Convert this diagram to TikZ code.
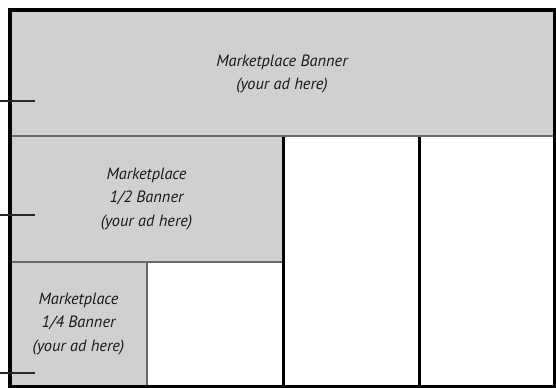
\documentclass[tikz,border=0pt]{standalone}
\usepackage{fontspec}
\setmainfont{PT Sans}
\usepackage{tikz}
\usetikzlibrary{positioning}
\definecolor{adgray}{RGB}{208,208,208}
\definecolor{adline}{RGB}{105,105,105}
\definecolor{adtext}{RGB}{25,25,25}
\tikzset{
  %% ---- boxes ----
  adbox/.style  = {rectangle, draw=adline, line width=1.1pt,
                   fill=adgray, inner sep=0pt, outer sep=0pt,
                   align=center, minimum width=#1, text=adtext,
                   font=\fontsize{9.3}{13.2}\selectfont\itshape},
  adbox/.default = 5cm,
  colbox/.style = {rectangle, fill=white, inner sep=0pt, outer sep=0pt,
                   minimum width=#1, minimum height=5cm},
  %% ---- lines ----
  frame/.style  = {draw=black, line width=2pt},
  tick/.style   = {draw=black!85, line width=1.1pt},
}
\begin{document}
\begin{tikzpicture}
\useasboundingbox (0,0) rectangle (11.12,-7.74);
\node[adbox=10.88cm, minimum height=2.52cm, anchor=north west] (banner) at (0.2,-0.2)
  {\raisebox{-0.08cm}{\begin{tabular}{@{}c@{}}Marketplace Banner\\(your ad here)\end{tabular}}};
\node[adbox=5.46cm, minimum height=2.52cm, below right=0pt of banner.south west] (half)
  {Marketplace\\1/2 Banner\\(your ad here)};
\node[adbox=2.74cm, minimum height=2.48cm, below right=0pt of half.south west] (quarter)
  {Marketplace\\1/4 Banner\\(your ad here)};
\node[colbox=2.72cm, below right=0.55pt of half.north east] (colA) {};
\node[colbox=2.70cm, below right=0pt of colA.north east]  (colB) {};
\draw[frame] (colA.north west) -- (colA.south west);
\draw[frame] (colB.north west) -- (colB.south west);
\draw[frame] (banner.north west) rectangle (colB.south east);
% side marks
\coordinate (mark1) at (0,-2.02);
\coordinate (mark2) at (0,-4.30);
\coordinate (mark3) at (0,-7.46);
\foreach \m in {mark1,mark2,mark3}
  \draw[tick] (\m) -- ++(0.7,0);
\end{tikzpicture}
\end{document}
